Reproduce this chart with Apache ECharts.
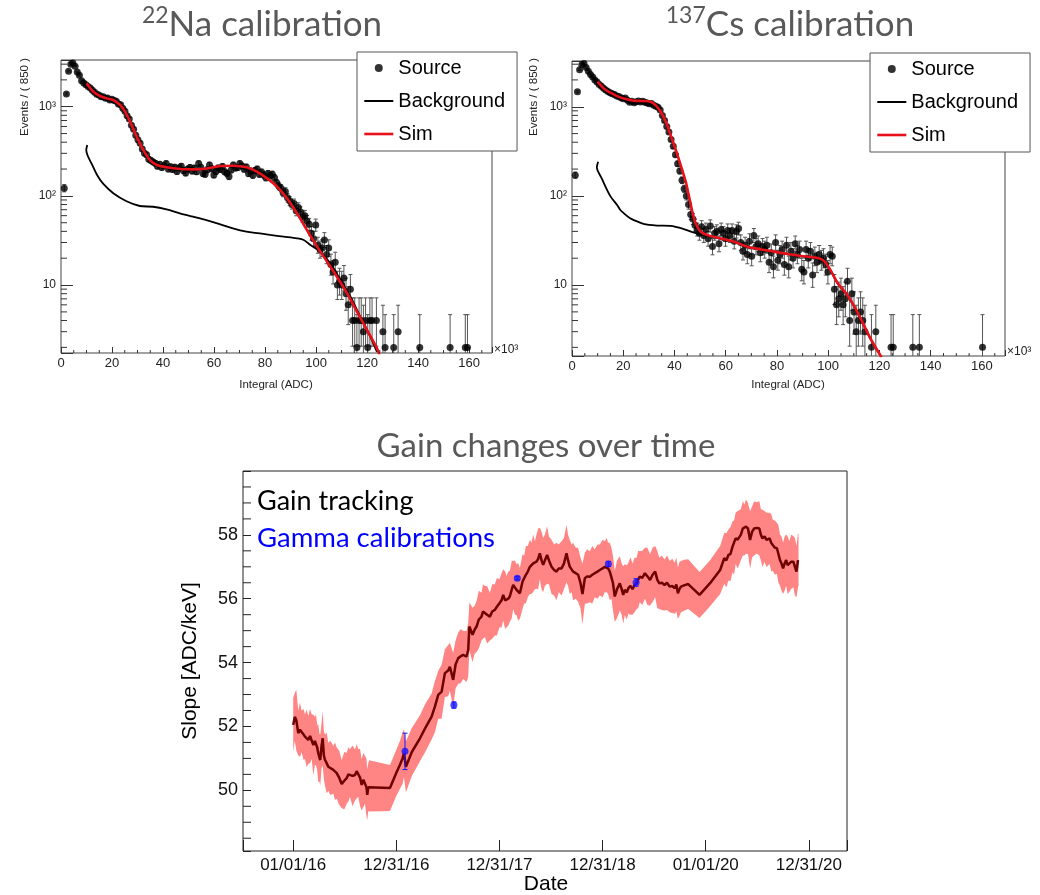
<!DOCTYPE html>
<html><head><meta charset="utf-8">
<script src="https://cdn.jsdelivr.net/npm/echarts@6/dist/echarts.min.js"></script>
<style>html,body{margin:0;padding:0;background:#fff}#c{width:1040px;height:895px}</style>
</head><body><div id="c"></div>
<script>
// ---------------- DATA ----------------
const BIN_WIDTH = 0.85; // bin width in 10^3 ADC ("Events / ( 850 )")

// 22Na source counts per bin (bin k centred at (k+0.5)*0.85)
const naCounts = [
0,122,1390,2500,3000,3100,2850,2450,2250,1950,1850,1760,
1690,1620,1530,1450,1380,1350,1290,1290,1240,1250,
1190,1210,1170,1150,1070,1050,960,890,790,730,
620,560,480,425,390,335,300,290,258,250,
240,232,215,226,208,218,230,200,212,198,
210,188,205,215,192,181,200,208,190,205,
187,230,210,178,175,196,222,201,172,188,
206,197,214,186,179,165,195,222,205,208,
230,216,199,211,178,190,170,192,200,175,
185,172,160,178,168,175,160,140,128,122,
108,112,95,88,80,82,68,74,66,58,
60,52,48,38,33,47,28,25,26,32,
22,26,17,14,18,10,11,10,12,8,
6,9,4,4,2,4,4,3,4,2,
4,4,0,4,0,0,3,2,0,0,
0,2,0,3,0,0,0,0,0,0,
0,0,0,2,0,0,0,0,0,0,
0,0,0,0,0,0,0,2,0,0,
0,0,0,0,2,2,0,0,0,0,
0,0,0,0,0,0,0,0];

// 137Cs source counts per bin
const csCounts = [
0,171,1470,2600,2950,3050,2750,2500,2300,2150,2000,1900,
1780,1700,1610,1540,1480,1440,1400,1370,1320,1300,
1260,1230,1250,1180,1120,1150,1110,1140,1160,1130,
1150,1120,1100,1080,1090,1040,1010,990,920,800,
700,600,520,430,360,290,230,190,150,120,
100,80,62,55,47,42,38,45,36,42,
33,46,27,38,40,29,42,38,33,41,
36,41,31,40,43,30,24,28,22,31,
21,36,27,29,23,27,25,28,18,23,
16,30,19,22,25,17,28,16,24,20,
29,22,25,15,14,25,20,24,13,21,
18,22,19,20,17,14,22,21,9,6,
7,8,6,7,11,4,8,5,3,4,
5,4,3,0,0,2,0,3,0,0,
0,0,0,0,2,2,0,0,0,0,
0,0,0,0,2,0,0,2,0,0,
0,0,0,0,0,0,0,0,0,0,
0,0,0,0,0,0,0,0,0,0,
0,0,0,0,0,0,2,0,0,0,
0,0,0,0,0,0,0,0];

const naSim = [[10,1830],[12.7,1470],[15.3,1318],[17.9,1240],[20.5,1188],[23.2,1044],[25.1,879],[27.1,678],[29.7,459],[32.3,326],[34.9,252],[37.6,222],[41.5,209],[46.7,200],[52,198],[57.2,203],[62.4,216],[67.7,218],[72.9,209],[76.8,187],[80.8,157],[84.7,127],[88.6,94],[92.5,64],[96.5,41],[100.4,27],[104.3,18.3],[108.2,12.4],[112.2,8.07],[116.1,5.0],[120,3.13],[123.9,1.95],[125,1.6]];
const naBackground = [[10.3,372],[9.9,327],[12.6,212],[14.5,165],[16.6,136],[20.5,107],[25.7,87],[30.9,77],[36.1,75.5],[41.4,70.6],[46.6,63.7],[51.8,58.4],[57,53.5],[62.2,48.3],[67.4,43.2],[72.7,39.7],[77.9,38],[82,36.5],[87.3,34.9],[92.5,33.4],[95.2,32],[97.8,28.1],[101.7,23.7],[105.6,17.5],[109.6,11.4],[113.5,7.4],[117.4,4.4],[121.3,2.63],[123.9,1.78]];

const csSim = [[10,1910],[12.4,1606],[15,1436],[17.6,1317],[20.2,1240],[24.2,1167],[28.1,1160],[30.7,1138],[32.6,1044],[34.6,879],[36.6,679],[38.5,481],[40.5,327],[42.4,222],[44.4,144],[45.7,98],[47,66],[48.3,49],[50.3,39.6],[52.9,36.3],[58.1,33.3],[63.3,30.6],[68.5,26.9],[73.8,25.1],[79,23.7],[84.2,22.3],[89.4,21.2],[94.6,20.4],[97.9,19.1],[100.5,15.4],[103.8,10.4],[107,8.07],[110.3,5.7],[113.6,3.7],[116.8,2.42],[120.8,1.55]];
const csBackground = [[10.2,241],[9.7,209],[11.6,157],[14.9,100],[17.6,79],[18.8,70],[20.2,64],[22.7,56],[24.2,53.5],[27.9,48.6],[33.2,46.5],[38.4,46],[43.6,42.5],[47.7,38.7],[50.3,37],[52.9,35.6],[58.1,33.0],[63.3,30.4],[68.5,26.7],[73.8,24.9],[79,23.5],[84.2,22.1],[89.4,21],[94.6,20.2],[97.9,18.9],[100.5,15.2],[103.8,10.3],[107,8.0],[110.3,5.6],[113.6,3.65],[116.8,2.4],[120.8,1.54]];

// tick positions
const topXMajor = [0,20,40,60,80,100,120,140,160];
const topXMinor = [5,10,15,25,30,35,45,50,55,65,70,75,85,90,95,105,110,115,125,130,135,145,150,155,165];
const logMinor = [2,3,4,5,6,7,8,9,20,30,40,50,60,70,80,90,200,300,400,500,600,700,800,900,2000,3000];
const gainYMinor = [48.5,49,49.5,50.5,51,51.5,52.5,53,53.5,54.5,55,55.5,56.5,57,57.5,58.5,59,59.5];

// Gain tracking: [decimal year (365.25-day years from 2016-01-01), slope ADC/keV, band half-width]
const gainTracking = [
[2016.000,52.05,0.85],[2016.015,52.30,0.75],[2016.030,52.20,0.95],[2016.049,51.79,0.70],[2016.065,51.90,0.85],[2016.082,51.84,0.65],[2016.100,51.75,0.80],[2016.114,51.68,0.70],[2016.130,51.62,0.90],[2016.146,51.58,0.75],[2016.163,51.70,0.85],[2016.179,51.68,0.70],[2016.195,51.42,0.95],[2016.210,51.55,0.75],[2016.221,51.58,0.80],[2016.232,51.35,0.70],[2016.243,51.16,0.90],[2016.255,51.02,0.75],[2016.262,50.95,0.80],[2016.275,51.40,0.70],[2016.286,51.63,0.85],[2016.297,51.10,0.75],[2016.308,50.95,0.80],[2016.325,50.85,0.95],[2016.340,50.74,0.75],[2016.360,50.70,0.85],[2016.389,50.64,0.75],[2016.405,50.60,0.90],[2016.422,50.54,0.80],[2016.445,50.40,0.85],[2016.470,50.20,0.75],[2016.495,50.30,0.90],[2016.518,50.38,0.80],[2016.535,50.50,0.85],[2016.550,50.54,0.75],[2016.575,50.45,0.95],[2016.599,50.48,0.80],[2016.615,50.60,0.85],[2016.631,50.54,0.75],[2016.648,50.40,0.90],[2016.664,50.17,0.80],[2016.680,50.33,0.85],[2016.696,50.33,0.75],[2016.710,50.10,0.90],[2016.718,49.86,0.80],[2016.728,50.10,0.75],[2016.737,50.14,0.80],
[2016.938,50.07,0.72],[2017.000,50.55,0.72],[2017.035,50.80,0.75],[2017.060,51.00,0.80],[2017.074,51.16,0.75],[2017.093,50.74,0.80],[2017.150,51.20,0.75],[2017.229,51.63,0.72],[2017.280,51.95,0.75],[2017.342,52.31,0.72],[2017.374,52.62,0.80],[2017.406,52.99,0.75],[2017.439,53.09,0.85],[2017.471,53.67,0.75],[2017.503,53.75,0.80],[2017.519,53.87,0.75],[2017.551,53.46,0.85],[2017.575,53.95,0.75],[2017.600,54.14,0.80],[2017.625,54.20,0.85],[2017.648,54.24,0.75],[2017.681,54.19,0.80],[2017.697,54.40,0.85],[2017.708,55.13,0.75],[2017.739,54.87,0.85],[2017.759,55.03,0.75],[2017.778,55.13,0.80],[2017.800,55.35,0.90],[2017.826,55.44,0.75],[2017.840,55.60,0.85],[2017.859,55.60,0.80],[2017.880,55.50,0.90],[2017.907,55.44,0.75],[2017.930,55.60,0.85],[2017.955,55.65,0.80],[2017.975,55.75,0.90],
[2018.000,55.86,0.75],[2018.020,55.95,0.85],[2018.036,56.12,0.80],[2018.055,55.95,0.90],[2018.069,55.91,0.80],[2018.085,56.00,0.85],[2018.100,56.07,0.80],[2018.120,56.30,0.90],[2018.133,56.43,0.75],[2018.150,56.35,0.85],[2018.166,56.28,0.80],[2018.180,56.22,0.90],[2018.198,56.17,0.80],[2018.224,56.54,0.85],[2018.240,56.60,0.75],[2018.256,56.75,0.90],[2018.275,56.85,0.80],[2018.295,57.00,0.85],[2018.310,56.95,0.80],[2018.327,57.11,0.90],[2018.343,57.05,0.75],[2018.359,57.16,0.85],[2018.375,57.25,0.95],[2018.391,57.42,0.80],[2018.408,57.20,0.90],[2018.424,57.06,0.85],[2018.440,57.20,0.80],[2018.462,57.37,0.90],[2018.480,57.20,0.75],[2018.505,57.00,0.85],[2018.530,56.90,0.80],[2018.553,56.85,0.90],[2018.575,56.95,0.75],[2018.602,56.95,0.85],[2018.625,57.10,0.80],[2018.650,57.42,0.90],[2018.665,57.20,0.80],[2018.682,57.00,0.85],[2018.700,56.95,0.75],[2018.714,56.85,0.90],[2018.740,56.80,0.80],[2018.763,56.75,0.85],[2018.785,56.50,0.80],[2018.805,56.15,0.95],[2018.828,56.64,0.80],[2018.850,56.70,0.85],[2018.876,56.69,0.80],[2018.900,56.75,0.90],[2018.924,56.80,0.75],[2018.950,56.85,0.85],[2018.973,56.90,0.80],
[2019.000,56.95,0.90],[2019.021,57.00,0.80],[2019.040,57.05,0.85],[2019.053,56.95,0.80],[2019.070,56.85,0.90],[2019.086,56.80,0.80],[2019.100,56.50,0.85],[2019.118,56.07,0.80],[2019.140,56.30,0.90],[2019.167,56.48,0.85],[2019.185,56.30,0.80],[2019.200,56.12,0.90],[2019.215,56.28,0.80],[2019.235,56.20,0.85],[2019.250,56.33,0.80],[2019.270,56.40,0.90],[2019.290,56.30,0.80],[2019.310,56.43,0.85],[2019.330,56.48,0.80],[2019.345,56.60,0.90],[2019.360,56.69,0.80],[2019.385,56.65,0.85],[2019.410,56.80,0.80],[2019.435,56.70,0.90],[2019.460,56.59,0.80],[2019.485,56.75,0.85],[2019.510,56.85,0.80],[2019.530,56.60,0.90],[2019.550,56.48,0.80],[2019.575,56.50,0.85],[2019.600,56.43,0.80],[2019.625,56.50,0.85],[2019.650,56.38,0.80],[2019.675,56.40,0.85],[2019.700,56.33,0.80],[2019.715,56.45,0.85],[2019.730,56.17,0.80],[2019.745,56.30,0.85],[2019.760,56.38,0.80],[2019.790,56.42,0.80],[2019.830,56.46,0.78],
[2019.940,56.12,0.72],[2020.040,56.48,0.72],[2020.140,56.90,0.75],[2020.180,57.27,0.80],[2020.200,57.20,0.85],[2020.220,57.37,0.80],[2020.240,57.40,0.85],[2020.260,57.63,0.80],[2020.275,57.60,0.85],[2020.290,57.89,0.80],[2020.310,57.85,0.90],[2020.340,58.00,0.80],[2020.360,58.20,0.85],[2020.375,58.15,0.80],[2020.390,58.26,0.85],[2020.410,58.20,0.80],[2020.430,57.84,0.90],[2020.450,58.10,0.80],[2020.470,58.20,0.85],[2020.495,58.22,0.80],[2020.520,58.20,0.85],[2020.535,58.00,0.80],[2020.550,57.89,0.90],[2020.570,57.95,0.80],[2020.590,57.84,0.85],[2020.620,57.89,0.80],[2020.635,57.75,0.90],[2020.650,57.68,0.80],[2020.670,57.60,0.85],[2020.690,57.58,0.80],[2020.705,57.40,0.90],[2020.720,57.21,0.80],[2020.735,57.10,0.85],[2020.750,56.95,0.80],[2020.765,57.10,0.85],[2020.780,57.21,0.80],[2020.795,57.05,0.90],[2020.810,57.00,0.80],[2020.830,57.16,0.85],[2020.850,57.16,0.80],[2020.865,57.00,0.90],[2020.880,56.85,0.80],[2020.895,57.21,0.85],[2020.900,57.21,0.80]];

// Gamma calibrations: [decimal year, slope, error]
const gammaCalibrations = [[2017.084,51.22,0.57],[2017.558,52.67,0.10],[2018.173,56.64,0.05],[2019.056,57.09,0.08],[2019.325,56.51,0.12]];

// ---------------- HELPERS ----------------
const SANS = 'Liberation Sans';
const TITLE_FONT = 'Lato';
function sourcePoints(counts){ const o=[]; counts.forEach((n,k)=>{ if(n>0) o.push([(k+0.5)*BIN_WIDTH,n]); }); return o; }
function sourceErrors(counts){ const o=[]; counts.forEach((n,k)=>{ if(n>0) o.push([(k+0.5)*BIN_WIDTH, n-Math.sqrt(n-0.25), n+1+Math.sqrt(n+0.75)]); }); return o; }
const SUP = {2:'\u00B2',3:'\u00B3'};
function logLabel(v){ const e=Math.log10(v), r=Math.round(e); if(Math.abs(e-r)>1e-4) return ''; return r===1?'10':'10'+(SUP[r]||''); }
function topXLabel(v){ return topXMajor.some(t=>Math.abs(t-v)<1e-6) ? String(Math.round(v)) : ''; }
function pad2(n){ return String(n).padStart(2,'0'); }
function dateLabel(v){ const r=Math.round(v); if(Math.abs(v-r)>1e-6||r<2016||r>2021) return ''; const d=new Date(Date.UTC(2016,0,1)+(v-2016)*365.25*864e5); return pad2(d.getUTCMonth()+1)+'/'+pad2(d.getUTCDate())+'/'+pad2(d.getUTCFullYear()%100); }
function gainYLabel(v){ const r=Math.round(v); return (Math.abs(v-r)<1e-6 && r>=50 && r<=58) ? String(r) : ''; }

function errorBarRender(color, cap){
  return function(params, api){
    const x=api.value(0), lo=api.value(1), hi=api.value(2);
    const a=api.coord([x,hi]), b=api.coord([x,lo]);
    const st={stroke:color, lineWidth:1};
    return {type:'group', children:[
      {type:'line', shape:{x1:a[0],y1:a[1],x2:b[0],y2:b[1]}, style:st},
      {type:'line', shape:{x1:a[0]-cap,y1:a[1],x2:a[0]+cap,y2:a[1]}, style:st},
      {type:'line', shape:{x1:b[0]-cap,y1:b[1],x2:b[0]+cap,y2:b[1]}, style:st}
    ]};
  };
}
function tickSeries(ai, data, dx, dy, color){
  return {type:'custom', xAxisIndex:ai, yAxisIndex:ai, silent:true, clip:false, z:5,
    data:data,
    renderItem:function(params, api){
      const p=api.coord([api.value(0), api.value(1)]);
      return {type:'line', shape:{x1:p[0],y1:p[1],x2:p[0]+dx,y2:p[1]+dy}, style:{stroke:color,lineWidth:1}};
    }};
}

// axis ranges
const TOP_X = [0,169];
const NA_Y = [1.73,3340];
const CS_Y = [1.6,3260];
const GAIN_X = [2015.513,2021.37];
const GAIN_Y = [48.1,60];

function topXAxis(gi){
  return {gridIndex:gi, type:'value', min:TOP_X[0], max:TOP_X[1], interval:20,
    axisLine:{show:false}, splitLine:{show:false},
    axisTick:{inside:true, length:6, lineStyle:{color:'#333'}},
    axisLabel:{formatter:topXLabel, fontFamily:SANS, fontSize:13, color:'#222', margin:4}};
}
function topYAxis(gi, r){
  return {gridIndex:gi, type:'log', logBase:10, min:r[0], max:r[1],
    axisLine:{show:false}, splitLine:{show:false},
    axisTick:{inside:true, length:12, lineStyle:{color:'#333'}},
    axisLabel:{formatter:logLabel, fontFamily:SANS, fontSize:12, color:'#222', margin:5}};
}
function spectrumSeries(gi, counts, sim, bg){
  return [
    {type:'custom', xAxisIndex:gi, yAxisIndex:gi, silent:true, clip:true, z:2,
      encode:{x:0,y:[1,2]}, data:sourceErrors(counts), renderItem:errorBarRender('#555',2)},
    {name:'Source', type:'scatter', xAxisIndex:gi, yAxisIndex:gi, symbol:'circle', symbolSize:7,
      itemStyle:{color:'#000'}, data:sourcePoints(counts), z:3, clip:true},
    {name:'Background', type:'line', xAxisIndex:gi, yAxisIndex:gi, symbol:'none', smooth:0.3,
      lineStyle:{color:'#000', width:1.8}, itemStyle:{color:'#000'}, data:bg, z:4, clip:true},
    {name:'Sim', type:'line', xAxisIndex:gi, yAxisIndex:gi, symbol:'none', smooth:0.3,
      lineStyle:{color:'#e8101a', width:2.6}, itemStyle:{color:'#e8101a'}, data:sim, z:4, clip:true},
    tickSeries(gi, logMinor.map(v=>[TOP_X[0], v]), 6, 0, '#333'),
    tickSeries(gi, topXMinor.map(v=>[v, gi===0?NA_Y[0]:CS_Y[0]]), 0, -3, '#333')
  ];
}
function legendAt(left, top){
  return {left:left, top:top, orient:'vertical', itemWidth:29, itemHeight:8, itemGap:13,
    padding:[6,12,7,6], borderColor:'#555', borderWidth:1, backgroundColor:'#fff',
    textStyle:{fontFamily:SANS, fontSize:20, color:'#000'}, selectedMode:false,
    data:[{name:'Source', icon:'circle'},
          {name:'Background', itemStyle:{opacity:0}, lineStyle:{width:2}},
          {name:'Sim', itemStyle:{opacity:0}, lineStyle:{width:2.6}}]};
}
function titleText(x, y, sup, main, size){
  return {type:'text', x:x, y:y, z:10,
    style:{text:(sup?'{s|'+sup+'}':'')+'{n|'+main+'}', align:'center', verticalAlign:'middle',
      rich:{s:{fontFamily:TITLE_FONT, fontSize:Math.round(size*0.66), fill:'#595959', verticalAlign:'top', lineHeight:Math.round(size*0.8)},
            n:{fontFamily:TITLE_FONT, fontSize:size, fill:'#595959', lineHeight:Math.round(size*1.2)}}}};
}
function plainText(x, y, text, size, color, align, rot, family){
  return {type:'text', x:x, y:y, rotation:rot||0, z:10,
    style:{text:text, font:size+'px "'+(family||SANS)+'"', fill:color, align:align||'left', verticalAlign:'middle'}};
}
// band polygon drawn from the gainTracking values through the axis scales
function bandRender(params, api){
  if (params.dataIndex !== 0) return null;
  const up = gainTracking.map(d=>api.coord([d[0], d[1]+d[2]]));
  const lo = gainTracking.map(d=>api.coord([d[0], d[1]-d[2]])).reverse();
  return {type:'polygon', shape:{points:up.concat(lo)}, style:{fill:'#ff8585'}};
}

// ---------------- OPTION ----------------
const chart = echarts.init(document.getElementById('c'));
const option = {
  animation:false,
  backgroundColor:'#fff',
  grid:[
    {left:61, top:60, width:431, height:293, show:true, borderColor:'#444', borderWidth:1, backgroundColor:'transparent'},
    {left:572, top:61, width:433, height:295, show:true, borderColor:'#444', borderWidth:1, backgroundColor:'transparent'},
    {left:243, top:471, width:604, height:380, show:true, borderColor:'#222', borderWidth:1, backgroundColor:'transparent'}
  ],
  xAxis:[ topXAxis(0), topXAxis(1),
    {gridIndex:2, type:'value', min:GAIN_X[0], max:GAIN_X[1], minInterval:1, maxInterval:1,
      axisLine:{show:false}, splitLine:{show:false},
      axisTick:{inside:true, length:11, lineStyle:{color:'#222'}},
      axisLabel:{formatter:dateLabel, fontFamily:SANS, fontSize:17, color:'#111', margin:6}} ],
  yAxis:[ topYAxis(0, NA_Y), topYAxis(1, CS_Y),
    {gridIndex:2, type:'value', min:GAIN_Y[0], max:GAIN_Y[1], minInterval:2, maxInterval:2,
      axisLine:{show:false}, splitLine:{show:false},
      axisTick:{inside:true, length:8, lineStyle:{color:'#222'}},
      axisLabel:{formatter:gainYLabel, fontFamily:SANS, fontSize:18, color:'#111', margin:5}} ],
  legend:[ legendAt(357,52), legendAt(870,53) ],
  series:[].concat(
    spectrumSeries(0, naCounts, naSim, naBackground),
    spectrumSeries(1, csCounts, csSim, csBackground),
    [
      {type:'custom', xAxisIndex:2, yAxisIndex:2, silent:true, clip:true, z:1,
        encode:{x:0,y:[1,2]}, data:gainTracking.map(d=>[d[0], d[1]-d[2], d[1]+d[2]]), renderItem:bandRender},
      {name:'Gain tracking', type:'line', xAxisIndex:2, yAxisIndex:2, symbol:'none',
        lineStyle:{color:'#6e0000', width:2.5}, data:gainTracking.map(d=>[d[0], d[1]]), z:3},
      {type:'custom', xAxisIndex:2, yAxisIndex:2, silent:true, z:4, encode:{x:0,y:[1,2]},
        data:gammaCalibrations.map(d=>[d[0], d[1]-d[2], d[1]+d[2]]), renderItem:errorBarRender('#1515ff',2.5)},
      {name:'Gamma calibrations', type:'scatter', xAxisIndex:2, yAxisIndex:2, symbolSize:7,
        itemStyle:{color:'#1515ff'}, data:gammaCalibrations.map(d=>[d[0], d[1]]), z:5},
      tickSeries(2, gainYMinor.map(v=>[GAIN_X[0], v]), 8, 0, '#222')
    ]
  ),
  graphic:[
    titleText(262, 25, '22', 'Na calibration', 35),
    titleText(790, 25, '137', 'Cs calibration', 35),
    titleText(546, 446, null, 'Gain changes over time', 33),
    plainText(494, 350, '\u00D710\u00B3', 12, '#222'),
    plainText(1007, 352, '\u00D710\u00B3', 12, '#222'),
    plainText(276, 385, 'Integral (ADC)', 11.5, '#222', 'center'),
    plainText(788, 385, 'Integral (ADC)', 11.5, '#222', 'center'),
    plainText(25, 58, 'Events / ( 850 )', 11.5, '#222', 'right', Math.PI/2),
    plainText(534, 58, 'Events / ( 850 )', 11.5, '#222', 'right', Math.PI/2),
    plainText(190, 661, 'Slope [ADC/keV]', 21, '#000', 'center', Math.PI/2),
    plainText(546, 884, 'Date', 21, '#000', 'center'),
    plainText(257, 501, 'Gain tracking', 27, '#000', 'left', 0, TITLE_FONT),
    plainText(257, 538, 'Gamma calibrations', 27.5, '#0000ff', 'left', 0, TITLE_FONT)
  ]
};
chart.setOption(option);
</script></body></html>
